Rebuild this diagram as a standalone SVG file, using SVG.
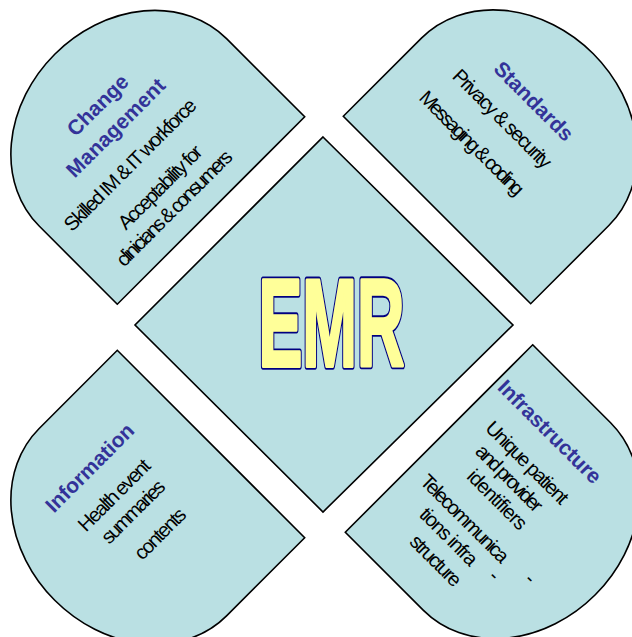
<svg xmlns="http://www.w3.org/2000/svg" width="632" height="637" viewBox="0 0 632 637">
  <style>
    .petal { fill: #BAE0E3; stroke: #000; stroke-width: 1.6; }
    .core { fill: #BAE0E3; stroke: #000; stroke-width: 1.6; }
    .title { font-family: "Liberation Sans", Arial, sans-serif; font-weight: bold; font-size: 21px; fill: #333399; text-anchor: middle; }
    .body { font-family: "Liberation Sans", Arial, sans-serif; font-size: 20px; fill: #000; text-anchor: middle; }
    .emr { font-family: "Liberation Sans", Arial, sans-serif; font-weight: bold; font-size: 124px; text-anchor: middle; }
    .emr-edge { fill: #000080; stroke: #000080; stroke-width: 6; stroke-linejoin: round; }
    .emr-face { fill: #FFFF99; stroke: #FFFF99; stroke-width: 3; stroke-linejoin: round; }
  </style>
  <defs>
    <!-- rounded "delay" petal: flat edge on x=0, bulging towards +x -->
    <path id="petal" d="M0,-132.5 H110.5 A110.5,132.5 0 0 1 110.5,132.5 H0 Z"/>
  </defs>

  <rect width="632" height="637" fill="#fff"/>

  <g id="emr">
    <polygon class="core" points="323,137 513,325 323,512 135,325"/>
    <g transform="translate(331.5,366) scale(0.53,1)">
      <text class="emr emr-edge" vector-effect="non-scaling-stroke">EMR</text>
      <text class="emr emr-face" vector-effect="non-scaling-stroke">EMR</text>
    </g>
  </g>

  <g id="change-management">
    <use href="#petal" class="petal" transform="translate(211,210.5) rotate(225)"/>
    <text class="title" transform="translate(97.5,105) rotate(-45)" y="7.5">Change</text>
    <text class="title" transform="translate(115.5,127.5) rotate(-45)" y="7.5" textLength="130" lengthAdjust="spacing">Management</text>
    <text class="body" transform="translate(130,164.5) rotate(-45)" y="7" textLength="178" lengthAdjust="spacing">Skilled IM &amp; IT workforce</text>
    <text class="body" transform="translate(160,187) rotate(-45)" y="7" textLength="110" lengthAdjust="spacing">Acceptability for</text>
    <text class="body" transform="translate(174,208) rotate(-45)" y="7" textLength="155" lengthAdjust="spacing">clinicians &amp; consumers</text>
  </g>

  <g id="standards">
    <use href="#petal" class="petal" transform="translate(437,210) rotate(-45)"/>
    <text class="title" transform="translate(534,101) rotate(45)" y="7.5">Standards</text>
    <text class="body" transform="translate(502.5,118.5) rotate(45)" y="7" textLength="131" lengthAdjust="spacing">Privacy &amp; security</text>
    <text class="body" transform="translate(472,143) rotate(45)" y="7" textLength="139" lengthAdjust="spacing">Messaging &amp; coding</text>
  </g>

  <g id="information">
    <use href="#petal" class="petal" transform="translate(211,444) rotate(135)"/>
    <text class="title" transform="translate(89.5,467.5) rotate(-45)" y="7.5">Information</text>
    <text class="body" transform="translate(114,495) rotate(-45)" y="7" textLength="93" lengthAdjust="spacing">Health event</text>
    <text class="body" transform="translate(133,511.5) rotate(-45)" y="7" textLength="81" lengthAdjust="spacing">summaries</text>
    <text class="body" transform="translate(160,533.5) rotate(-45)" y="7" textLength="64" lengthAdjust="spacing">contents</text>
  </g>

  <g id="infrastructure">
    <use href="#petal" class="petal" transform="translate(439,438.5) rotate(45)"/>
    <text class="title" transform="translate(550,431.5) rotate(45)" y="7.5">Infrastructure</text>
    <text class="body" transform="translate(527.5,462.5) rotate(45)" y="7" textLength="108" lengthAdjust="spacing">Unique patient</text>
    <text class="body" transform="translate(509.5,478) rotate(45)" y="7" textLength="86" lengthAdjust="spacing">and provider</text>
    <text class="body" transform="translate(497.5,499.5) rotate(45)" y="7" textLength="76" lengthAdjust="spacing">identifiers</text>
    <text class="body" transform="translate(465,518.5) rotate(45)" y="7" textLength="116" lengthAdjust="spacing">Telecommunica</text>
    <text class="body" transform="translate(449,536.5) rotate(45)" y="7" textLength="73" lengthAdjust="spacing">tions infra</text>
    <text class="body" transform="translate(436,560.5) rotate(45)" y="7" textLength="64" lengthAdjust="spacing">structure</text>
    <text class="body" transform="translate(492,578) rotate(45)" y="3" font-size="10">-</text>
    <text class="body" transform="translate(528,581) rotate(45)" y="3" font-size="10">-</text>
  </g>
</svg>
